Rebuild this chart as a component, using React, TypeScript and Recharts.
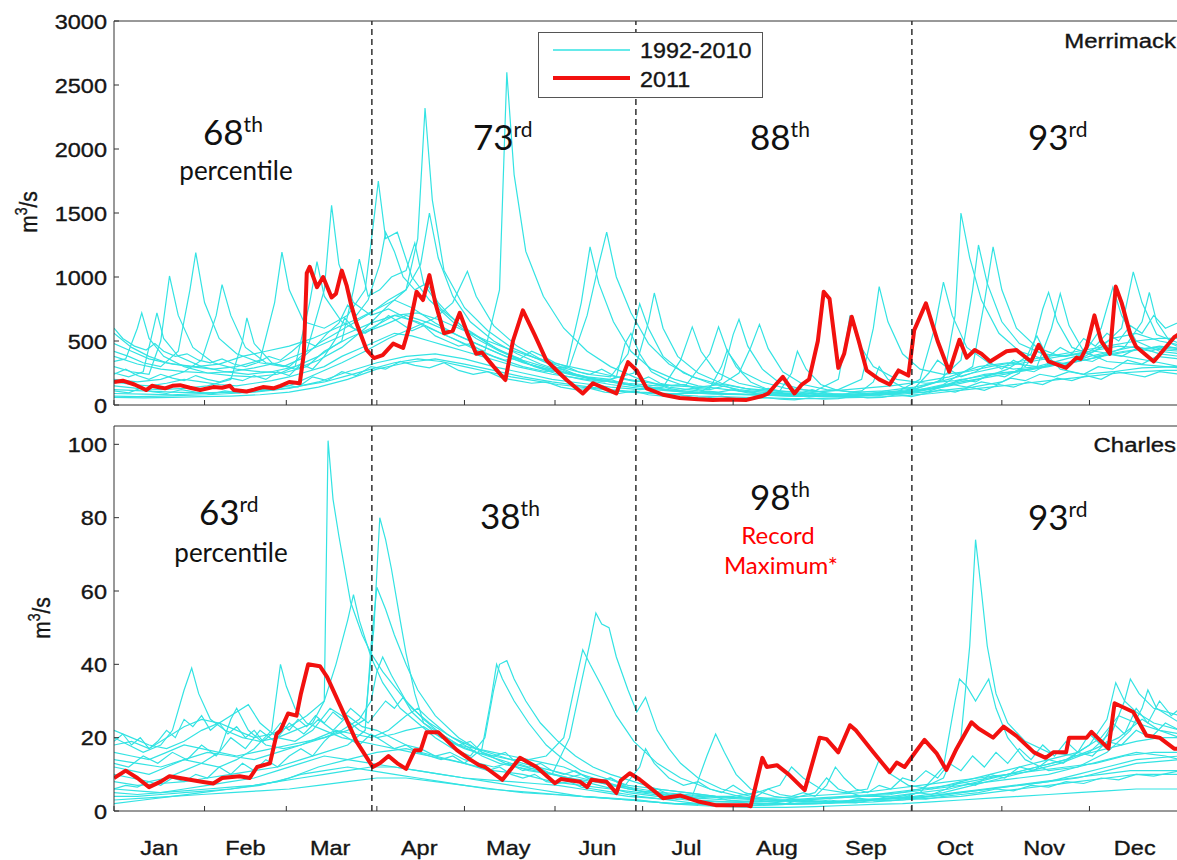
import React from 'react';
import { LineChart, Line, XAxis, YAxis, ReferenceLine } from 'recharts';

type Pt = [number, number]; // [day of year, flow m3/s]

const MONTHS = ['Jan', 'Feb', 'Mar', 'Apr', 'May', 'Jun', 'Jul', 'Aug', 'Sep', 'Oct', 'Nov', 'Dec'];
const MONTH_MID = [15.5, 45, 74, 104.5, 135, 165.5, 196, 227, 257.5, 288, 318.5, 349.5];
const MONTH_EDGES = [0, 31, 59, 90, 120, 151, 181, 212, 243, 273, 304, 334, 365];
const SEASON_BREAKS = [88.3, 178.7, 273.2];

const MERRIMACK_TICKS = [0, 500, 1000, 1500, 2000, 2500, 3000];
const CHARLES_TICKS = [0, 20, 40, 60, 80, 100];

// Merrimack, 1992-2010 (one array per year)
const merrimackPast: Pt[][] = [
  [[0,420],[5,380],[10,330],[16,300],[22,420],[26,900],[28,1190],[31,800],[36,520],[42,400],[50,330],[58,300],[64,360],[70,480],[76,560],[82,640],[88,720],[94,820],[100,900],[104,1300],[106.5,2320],[109,1600],[113,1050],[120,760],[128,580],[136,450],[145,360],[155,260],[165,200],[175,160],[185,130],[195,100],[205,85],[215,80],[225,75],[235,70],[245,80],[255,90],[265,100],[275,130],[284,200],[288,700],[290,1500],[293,1150],[297,820],[303,560],[310,420],[318,360],[326,320],[334,380],[342,420],[350,460],[358,400],[365,380]],
  [[0,300],[6,260],[12,240],[16,500],[19,1008],[22,700],[27,450],[34,330],[42,280],[50,260],[58,250],[66,300],[72,420],[80,520],[88,600],[96,700],[104,650],[112,560],[120,480],[127,420],[132,900],[134.5,2600],[137,1800],[141,1200],[147,850],[154,600],[162,420],[170,300],[180,200],[190,140],[200,110],[210,90],[220,80],[232,70],[244,65],[256,70],[268,90],[278,120],[288,180],[298,240],[308,260],[318,300],[328,330],[338,380],[348,420],[358,460],[365,440]],
  [[0,200],[8,180],[16,200],[24,260],[30,350],[35,700],[37,940],[40,700],[45,450],[52,330],[60,300],[66,420],[72,900],[74.5,1560],[77,1100],[82,800],[88,700],[94,750],[100,680],[108,600],[116,520],[124,430],[132,360],[140,300],[148,260],[156,300],[162,700],[166,1100],[168.7,1350],[172,1000],[177,720],[183,480],[190,320],[198,220],[206,170],[216,130],[226,110],[236,100],[246,110],[256,130],[266,150],[276,180],[286,220],[296,300],[306,330],[316,300],[326,360],[336,420],[346,380],[356,340],[365,300]],
  [[0,560],[6,450],[12,380],[18,330],[26,300],[34,280],[42,300],[50,350],[55,800],[57.5,1195],[60,900],[65,650],[72,600],[80,700],[86,900],[89,1450],[90.5,1750],[93,1300],[97,1350],[102,1000],[108,820],[116,650],[124,520],[132,420],[140,350],[150,280],[160,220],[170,180],[180,150],[190,120],[200,100],[212,85],[224,75],[236,70],[248,72],[260,85],[272,110],[282,180],[290,350],[294,900],[296,1250],[299,950],[304,650],[310,480],[318,400],[326,380],[334,420],[342,520],[350,560],[358,500],[365,470]],
  [[0,340],[4,360],[8,600],[9.5,720],[12,520],[17,380],[24,300],[32,250],[40,230],[48,220],[56,240],[62,300],[67,800],[69.5,1120],[72,850],[78,650],[85,560],[92,620],[100,700],[108,640],[116,560],[124,480],[132,400],[140,330],[148,280],[155,300],[160,800],[163,1235],[166,950],[171,650],[177,420],[184,280],[192,200],[200,150],[210,120],[220,95],[232,80],[244,70],[256,75],[268,90],[280,130],[290,180],[300,220],[310,260],[320,300],[330,350],[338,450],[345,600],[349,1040],[352,800],[357,550],[365,480]],
  [[0,250],[5,220],[10,260],[13,550],[14.7,720],[17,520],[22,380],[30,300],[38,260],[46,240],[54,260],[62,300],[70,380],[78,500],[82,900],[84,1140],[87,850],[91,900],[95,1000],[100,1050],[103,1265],[106,950],[112,750],[120,600],[128,480],[136,380],[144,300],[152,240],[160,200],[170,160],[180,130],[190,110],[200,95],[212,85],[224,80],[236,90],[248,120],[256,200],[260,600],[262,925],[265,650],[270,400],[276,280],[284,240],[292,260],[300,300],[310,340],[320,380],[330,420],[340,460],[350,500],[358,520],[365,520]],
  [[0,150],[8,130],[16,120],[24,130],[32,150],[40,200],[44,500],[45.5,680],[48,480],[54,330],[62,280],[70,350],[78,450],[86,600],[94,780],[100,900],[105,1100],[108,1500],[111,1150],[116,850],[122,650],[130,500],[138,400],[146,320],[154,260],[162,220],[170,200],[178,250],[183,650],[185,875],[188,600],[193,380],[200,250],[208,170],[218,120],[228,95],[238,80],[250,75],[262,80],[274,100],[286,150],[296,200],[306,280],[314,400],[318,750],[320,880],[323,650],[328,450],[336,380],[346,420],[356,450],[365,430]],
  [[0,120],[10,110],[20,100],[30,95],[40,100],[50,110],[60,150],[70,250],[78,330],[86,420],[94,520],[102,600],[110,680],[116,800],[121,1045],[124,850],[130,620],[138,460],[146,360],[154,290],[162,240],[170,220],[176,400],[180,790],[183,600],[188,380],[195,250],[204,170],[214,120],[224,95],[236,80],[248,75],[260,80],[272,100],[284,160],[294,300],[298,800],[301,1235],[304,900],[309,600],[316,450],[324,380],[332,400],[338,600],[342,920],[345,700],[350,500],[358,420],[365,400]],
  [[0,90],[10,85],[20,80],[30,90],[40,100],[50,110],[60,130],[70,180],[80,260],[90,330],[100,380],[110,400],[120,360],[130,300],[140,250],[150,200],[160,170],[170,140],[180,120],[188,140],[194,350],[198,610],[201,420],[206,260],[214,170],[224,120],[234,95],[244,85],[256,80],[268,100],[276,200],[281,600],[284,960],[287,700],[292,450],[300,320],[308,280],[316,300],[321,600],[324,870],[327,620],[332,420],[340,340],[350,320],[360,300],[365,290]],
  [[0,480],[6,420],[12,360],[20,320],[28,300],[36,320],[44,380],[52,420],[60,460],[68,520],[76,600],[84,680],[90,750],[96,820],[102,760],[110,640],[118,540],[126,460],[134,380],[142,320],[150,270],[158,230],[166,200],[176,170],[186,150],[196,160],[204,400],[207,610],[210,420],[215,260],[222,180],[230,130],[240,110],[248,200],[251,550],[252,700],[255,480],[260,300],[268,200],[278,170],[288,190],[298,230],[308,260],[318,300],[328,330],[338,380],[346,450],[352,650],[354.5,880],[357,650],[362,480],[365,450]],
  [[0,60],[10,55],[20,60],[30,65],[40,70],[50,80],[60,100],[70,140],[80,200],[90,280],[100,330],[110,360],[120,320],[130,270],[140,220],[150,180],[160,150],[170,120],[180,100],[190,90],[200,90],[208,200],[212,550],[214,670],[217,460],[222,280],[228,170],[236,120],[246,90],[258,80],[270,85],[282,110],[294,140],[304,180],[310,250],[314,450],[316,540],[319,400],[324,280],[332,240],[342,260],[352,290],[365,300]],
  [[0,380],[8,320],[16,280],[24,260],[32,250],[40,260],[48,290],[56,330],[64,400],[72,480],[80,560],[88,640],[96,700],[104,720],[112,660],[120,580],[128,500],[136,430],[144,370],[152,320],[160,280],[168,240],[176,200],[184,170],[192,150],[200,140],[208,160],[214,250],[218,450],[221,630],[224,440],[229,260],[236,160],[244,120],[254,100],[264,110],[274,140],[284,190],[294,250],[304,300],[314,340],[324,380],[334,420],[344,460],[354,440],[365,420]],
  [[0,110],[5,95],[9,130],[13,105],[18,90],[23,120],[28,100],[33,85],[38,110],[43,95],[48,130],[53,115],[58,160],[63,140],[68,220],[73,190],[78,260],[83,230],[88,300],[93,280],[98,340],[103,310],[108,290],[113,330],[118,270],[123,240],[128,260],[133,210],[138,190],[143,170],[148,180],[153,140],[158,120],[163,130],[168,100],[173,90],[178,110],[183,80],[188,70],[193,85],[198,60],[203,55],[208,70],[213,50],[218,45],[223,60],[228,45],[233,40],[238,55],[243,45],[248,50],[253,70],[258,55],[263,60],[268,80],[273,65],[278,90],[283,120],[288,100],[293,140],[298,115],[303,160],[308,140],[313,180],[318,160],[323,210],[328,190],[333,230],[338,200],[343,260],[348,240],[353,220],[358,260],[365,240]],
  [[0,600],[3,520],[7,460],[11,430],[14,480],[17,420],[21,380],[25,400],[29,350],[33,330],[37,360],[41,320],[45,300],[49,330],[53,380],[57,350],[61,420],[65,500],[69,460],[73,560],[77,640],[80,780],[83,700],[87,820],[91,1100],[93,1350],[96,1200],[99,1000],[103,900],[107,950],[111,800],[115,700],[119,620],[123,560],[127,500],[131,440],[135,400],[139,360],[143,420],[147,380],[151,330],[155,300],[159,260],[163,240],[167,280],[171,230],[175,200],[179,180],[183,220],[187,170],[191,150],[195,160],[199,130],[204,120],[209,150],[214,110],[219,100],[224,130],[229,95],[234,85],[239,120],[244,90],[249,80],[254,100],[259,85],[264,110],[269,95],[274,130],[279,250],[282,350],[286,280],[290,220],[295,260],[300,330],[304,280],[308,350],[312,300],[316,420],[320,380],[324,450],[328,400],[332,520],[336,460],[340,560],[344,500],[348,620],[352,560],[356,700],[360,600],[365,650]],
  [[0,240],[4,280],[8,230],[12,200],[16,240],[20,210],[24,190],[28,230],[32,200],[36,180],[40,210],[44,190],[48,230],[52,200],[56,260],[60,230],[64,320],[68,280],[72,380],[76,520],[79,680],[82,600],[86,560],[90,620],[94,700],[98,640],[102,580],[106,620],[110,540],[114,500],[118,460],[122,480],[126,420],[130,380],[134,350],[138,370],[142,320],[146,290],[150,260],[154,280],[158,240],[162,210],[166,190],[170,200],[174,170],[178,150],[182,140],[186,160],[190,130],[194,115],[198,130],[202,110],[207,100],[212,120],[217,95],[222,85],[227,100],[232,80],[237,70],[242,90],[247,75],[252,70],[257,90],[262,75],[267,85],[272,110],[277,95],[282,130],[287,160],[292,140],[297,180],[302,160],[307,210],[312,190],[317,240],[322,220],[327,260],[332,240],[337,300],[342,280],[347,350],[352,320],[357,380],[365,360]],
  [[0,180],[6,160],[12,150],[18,170],[24,200],[30,180],[36,160],[42,150],[48,170],[54,190],[60,220],[66,260],[72,300],[78,380],[84,440],[90,500],[96,560],[102,540],[108,500],[114,460],[120,420],[126,380],[132,340],[138,300],[144,270],[150,240],[156,220],[162,200],[168,180],[172,220],[175,480],[177,560],[180,400],[184,260],[189,200],[194,160],[199,140],[204,130],[208,300],[210,430],[213,300],[218,180],[223,130],[228,110],[232,250],[234,420],[237,280],[242,160],[247,120],[252,100],[256,110],[260,180],[262,300],[265,200],[270,140],[275,120],[280,130],[285,150],[290,200],[295,180],[300,240],[305,220],[310,280],[315,260],[320,320],[325,300],[330,360],[335,340],[340,400],[345,380],[350,440],[355,420],[360,460],[365,440]],
  [[0,70],[8,65],[16,70],[24,75],[32,80],[40,90],[48,100],[56,120],[64,150],[72,180],[80,230],[88,280],[96,330],[104,360],[112,340],[120,300],[128,260],[136,220],[144,190],[152,160],[160,140],[168,120],[176,100],[184,90],[192,80],[200,70],[208,65],[216,60],[224,55],[232,50],[240,50],[248,55],[256,60],[264,65],[272,75],[280,90],[288,110],[296,130],[304,150],[312,170],[320,190],[328,210],[336,230],[344,250],[352,260],[360,270],[365,270]],
];

const merrimack2011: Pt[] = [[0,180],[3,190],[7,160],[11,117],[13,150],[15,140],[17.5,130],[20,150],[22.6,155],[26,135],[29.5,117],[34,140],[37,135],[39.7,150],[41,117],[45.4,105],[48,120],[51,140],[54.6,130],[57,150],[60,180],[63.6,170],[65,400],[66,1030],[67,1080],[69.5,920],[71.6,1000],[74.5,840],[76,870],[78,1050],[79.7,930],[81,800],[83,640],[86.5,430],[89,367],[92,390],[95.6,480],[99,445],[101,600],[103.6,885],[105.8,820],[108,1015],[110,800],[113,560],[116,580],[118.4,720],[121,560],[124,400],[126,410],[130,300],[134,195],[136.6,500],[140,740],[144,550],[148,350],[152,260],[155,195],[160.5,90],[164,170],[168,130],[172,90],[176,335],[179,270],[182.4,130],[188,80],[193.7,55],[200,45],[205,40],[210,42],[216.6,40],[222,70],[224,90],[227,170],[229,220],[233,90],[235.5,160],[238,200],[241,500],[243,885],[245,830],[248,290],[250,400],[252.6,690],[255,500],[257.7,270],[262,200],[265.6,160],[268.6,270],[272,230],[274,585],[278,795],[282,500],[286,260],[289.5,510],[292,370],[294.7,430],[297,400],[300,340],[305.6,420],[309,430],[314,340],[316.6,470],[320,340],[326,290],[329.6,370],[331,360],[333,450],[335.7,700],[338,500],[341,400],[343,925],[345,800],[348,550],[350,455],[356,340],[359,420],[363,530],[365,560]];

// Charles, 1992-2010
const charlesPast: Pt[][] = [
  [[0,20],[5,18],[10,16],[16,18],[20,22],[24,33],[26.6,39],[29,32],[33,25],[38,22],[44,20],[50,19],[56,20],[62,22],[68,24],[72,30],[73.3,101],[75,85],[77,75],[81,57],[85,48],[88,43],[92,38],[96,34],[102,28],[108,24],[116,20],[124,17],[132,15],[140,13],[150,11],[160,9],[170,7],[180,5.5],[190,4.5],[200,4],[210,3.5],[220,3],[230,3],[240,3.5],[250,4],[260,4.5],[270,5],[280,6],[290,7],[300,8],[310,9],[320,10],[330,12],[340,14],[350,16],[360,15],[365,14]],
  [[0,14],[8,13],[16,12],[24,14],[32,16],[40,15],[48,14],[56,16],[64,18],[72,20],[80,22],[86,25],[89,50],[91,80],[93,74],[95,66],[98,52],[100,43],[103,32],[106,24],[112,20],[120,17],[128,15],[136,13],[146,11],[156,9],[166,7],[176,5],[186,4],[196,3],[206,2.5],[216,2.5],[226,2.5],[236,3],[246,3.5],[256,4],[266,4.5],[276,6],[284,9],[290,20],[293,45],[295,74],[297,60],[299,45],[302,32],[306,24],[312,19],[320,16],[330,15],[340,17],[350,19],[358,20],[365,20]],
  [[0,8],[8,7],[16,7.5],[24,8],[32,9],[40,10],[48,11],[56,12],[64,14],[72,16],[80,18],[86,22],[88,45],[90,61],[93,55],[96,48],[100,40],[104,33],[110,26],[118,20],[126,16],[134,13],[142,11],[150,10],[156,20],[160,35],[163,46],[165,54],[167,51],[169.5,50],[172,42],[176,33],[179,27],[182,31],[186,22],[190,17],[194,13],[200,9],[208,6],[218,4],[228,3],[238,2.5],[248,2.5],[258,3],[268,3.5],[278,4],[288,5],[298,6],[308,7],[318,8],[328,9],[338,10],[348,11],[358,11],[365,11]],
  [[0,22],[6,20],[12,18],[18,17],[24,19],[30,22],[36,24],[42,22],[48,20],[54,21],[60,23],[66,26],[72,30],[76,40],[80,52],[82,59],[84,52],[88,42],[92,35],[98,28],[104,24],[110,20],[116,17],[122,15],[127,20],[130,33],[132,40],[134.5,41],[137,36],[141,30],[146,24],[152,19],[158,15],[164,12],[170,10],[178,8],[186,6],[196,5],[206,4],[216,3.5],[226,3],[236,3],[246,3.5],[256,4],[266,5],[276,6],[286,7],[296,8.5],[306,10],[316,11],[326,12],[336,13],[346,15],[356,16],[365,16]],
  [[0,12],[6,11],[12,10],[18,12],[24,14],[30,13],[36,12],[42,14],[48,17],[54,22],[57,40],[59,34],[62,28],[66,24],[72,22],[78,20],[84,19],[90,18],[96,17],[102,16],[108,15],[114,14],[120,13],[126,17],[129,30],[131,40],[133,36],[137,30],[142,24],[148,18],[154,14],[160,11],[168,9],[176,7],[186,6],[196,5],[206,4],[216,3.5],[226,3.5],[236,4],[246,4.5],[256,5],[266,6],[276,7],[286,8],[296,9],[306,10],[316,12],[326,14],[334,18],[340,25],[343,35],[346,30],[350,27],[356,24],[365,22]],
  [[0,16],[6,15],[12,14],[18,16],[24,18],[30,17],[36,16],[42,15],[48,16],[54,17],[60,18],[66,19],[72,20],[78,22],[84,25],[88,30],[90,38],[92,42],[95,37],[100,30],[106,25],[112,21],[118,18],[124,16],[130,15],[136,14],[142,14],[148,15],[154,20],[158,35],[160.5,44],[163,40],[167,34],[172,26],[178,19],[186,13],[194,9],[204,6],[214,4],[224,3],[234,2.5],[244,2.5],[254,3],[264,3.5],[274,4],[284,5],[294,7],[304,9],[314,11],[324,13],[334,16],[342,22],[346,30],[348,36],[351,32],[356,28],[365,26]],
  [[0,6],[8,5.5],[16,5],[24,5.5],[32,6],[40,6.5],[48,7],[56,8],[64,9],[72,10],[80,11],[88,12],[96,12],[104,11],[112,10],[120,9],[128,8.5],[136,8],[144,7.5],[152,7],[160,6],[168,5],[176,4],[184,3.5],[192,3],[198,4],[203,15],[206,21],[209,16],[213,10],[218,6],[226,4],[236,3],[246,2.5],[256,3],[266,3.5],[276,5],[284,12],[288,30],[289.5,36],[292,34],[295,30],[299.5,36],[302,28],[306,20],[312,14],[320,11],[330,12],[340,16],[348,22],[352,28],[354,33],[357,28],[365,24]],
  [[0,3],[10,3.5],[20,4],[30,4.5],[40,5],[50,5.5],[60,6],[70,7],[80,8],[90,9],[100,9],[110,8],[120,7],[130,6],[140,5],[150,4.5],[160,4],[170,3.5],[180,3],[190,2],[200,1.5],[210,1.2],[220,1],[230,1],[240,1.2],[250,1.5],[260,1.8],[270,2],[280,2.5],[290,3],[300,3.5],[310,4],[320,4.5],[330,5],[340,5.5],[350,6],[365,6]],
  [[0,10],[6,9],[12,8],[18,9],[24,11],[30,13],[36,16],[40,25],[42,28],[46,22],[52,18],[58,17],[64,18],[70,20],[76,22],[82,21],[88,20],[94,22],[100,26],[104,28],[108,25],[114,21],[120,18],[126,15],[132,13],[138,12],[144,11],[150,10],[156,9],[164,8],[172,7],[180,6],[188,5],[196,4.5],[204,4],[212,4],[220,5],[228,7],[232,12],[236,9],[242,6],[250,5],[258,6],[262,14],[266,10],[272,7],[280,6],[290,8],[300,10],[310,12],[320,14],[330,16],[338,20],[344,26],[350,24],[358,22],[365,21]],
  [[0,18],[6,19],[12,17],[18,20],[24,23],[30,25],[36,24],[42,27],[46,29],[50,24],[56,20],[62,19],[68,22],[74,28],[78,26],[84,22],[90,20],[96,21],[100,22],[106,23],[112,20],[118,18],[124,17],[130,16],[136,15],[142,14],[148,13],[154,12],[160,10],[168,8],[176,6],[184,5],[192,4],[200,3.5],[210,3],[220,2.5],[230,3],[240,5],[244,9],[248,6],[256,4],[266,4],[276,5],[286,6],[296,8],[306,10],[316,12],[326,14],[336,17],[344,20],[352,25],[358,22],[365,20]],
  [[0,5],[8,4.5],[16,5],[24,6],[32,7],[40,8],[48,9],[56,11],[64,13],[72,15],[80,14],[88,13],[96,12],[104,11],[112,10],[120,9],[128,8],[136,7],[144,6],[152,5],[160,4],[168,3.5],[176,3],[184,2.5],[192,2],[200,1.8],[210,1.5],[220,1.5],[230,1.8],[240,2],[250,2.2],[260,2.5],[270,3],[280,3.5],[290,4],[300,5],[310,6],[320,7],[330,8],[340,9],[350,10],[365,10]],
  [[0,2],[10,3],[20,4],[30,5],[40,6],[50,7],[60,9],[70,12],[80,14],[90,16],[100,17],[110,15],[120,13],[130,11],[140,10],[150,8],[160,7],[170,6],[180,5],[190,4],[200,3],[210,2.5],[220,2],[230,2],[240,2],[250,2.5],[260,3],[270,3],[280,4],[290,5],[300,6],[310,7],[320,8],[330,9],[340,11],[350,13],[365,14]],
  [[0,19],[3,21],[6,18],[9,20],[12,17],[15,19],[18,22],[21,20],[24,25],[27,23],[30,26],[33,22],[36,24],[39,21],[42,23],[45,20],[48,22],[51,19],[54,21],[57,24],[60,22],[63,25],[66,23],[69,26],[72,24],[75,27],[78,25],[81,28],[84,26],[87,24],[90,27],[93,30],[96,28],[99,31],[102,27],[106,24],[110,22],[114,20],[118,18],[122,19],[126,16],[130,15],[134,16],[138,13],[142,12],[146,13],[150,11],[154,10],[158,11],[162,9],[166,8],[170,9],[174,7],[178,6],[182,5],[186,6],[190,4.5],[195,4],[200,3.5],[205,4],[210,3],[215,2.5],[220,3],[225,2.5],[230,2],[235,3],[240,2.5],[245,3],[250,2.5],[255,3.5],[260,3],[265,4],[270,3.5],[275,5],[280,4.5],[285,6],[290,8],[295,7],[300,10],[305,9],[310,12],[315,11],[320,14],[325,13],[330,16],[335,15],[340,19],[345,18],[350,22],[355,20],[360,24],[365,22]],
  [[0,6],[4,7],[8,6.5],[12,8],[16,7],[20,9],[24,8],[28,10],[32,9],[36,12],[40,10],[44,13],[48,11],[52,14],[56,12],[60,15],[64,17],[68,15],[72,19],[76,22],[80,20],[84,18],[88,21],[92,19],[96,17],[100,18],[104,16],[108,15],[112,14],[116,15],[120,13],[124,12],[128,11],[132,12],[136,10],[140,9],[144,10],[148,8],[152,7.5],[156,8],[160,6.5],[164,6],[168,5.5],[172,5],[176,4.5],[180,4],[185,3.5],[190,3],[195,2.5],[200,2],[206,2],[212,1.8],[218,1.5],[224,2],[230,1.8],[236,2.2],[242,2],[248,2.5],[254,2.2],[260,3],[266,2.8],[272,3.5],[278,3.2],[284,4],[290,4.5],[296,5],[302,6],[308,5.5],[314,7],[320,6.5],[326,8],[332,7.5],[338,9],[344,8.5],[350,10],[356,9.5],[365,11]],
  [[0,13],[5,12],[10,15],[15,13],[20,16],[25,14],[30,18],[35,15],[40,20],[45,17],[50,22],[55,19],[60,24],[65,21],[70,25],[75,22],[80,26],[85,23],[90,22],[95,20],[100,18],[105,17],[110,15],[115,16],[120,14],[125,13],[130,12],[135,13],[140,11],[145,12],[150,10],[155,9],[160,10],[165,8],[170,9],[175,7],[180,12],[182,17],[185,13],[190,9],[195,7],[200,8],[204,6],[208,5],[212,7],[216,5],[220,4],[224,6],[228,4.5],[232,4],[236,5],[240,4],[244,7],[247,12],[250,9],[254,6],[258,5],[262,7],[266,6],[270,9],[274,8],[278,11],[282,9],[286,13],[290,11],[294,15],[298,12],[302,16],[306,13],[310,17],[314,14],[318,18],[322,15],[326,19],[330,16],[334,21],[338,18],[342,24],[346,21],[350,28],[354,24],[358,30],[362,26],[365,28]],
  [[0,4],[8,4],[16,4.5],[24,5],[32,5.5],[40,6],[48,7],[56,8],[64,10],[72,11],[80,12],[88,11],[96,10],[104,9],[112,8],[120,7],[128,6],[136,5.5],[144,5],[152,4.5],[160,4],[168,3.5],[176,3],[184,2.5],[192,2],[200,2],[210,1.8],[220,1.6],[230,1.8],[240,2],[250,2.5],[260,3],[270,3.5],[280,4],[290,5],[300,6],[310,7],[320,8],[330,10],[340,12],[350,14],[365,15]],
];

const charles2011: Pt[] = [[0,9],[4,11],[8,9],[12,6.5],[16,8],[19,9.5],[26,8.5],[30,8],[34,7.5],[37,9],[43,9.5],[46.5,9],[49,12],[53.4,13],[55.7,21],[57,22],[59.6,26.6],[62.5,26],[64,32],[66.5,40],[70.5,39.5],[73,36.5],[77.3,29],[83,19],[88.6,12],[91,13],[94,15],[97,13],[100,11.5],[103,16.6],[105,16.6],[107,21.5],[111,21.5],[117.4,16.6],[122,14],[125,12.5],[127,12],[133,8.5],[139,14.5],[144.7,12],[151,7.6],[153,8.7],[159.5,8],[162,6.5],[163.5,8.5],[168.6,8],[172,4.9],[173.5,8.3],[176.6,10.3],[180,8.6],[188,3.5],[194,4.2],[200.5,2.5],[206,1.6],[216.6,1.6],[218,1.3],[222,14.5],[223.5,12],[227,12.5],[231,10],[236.5,5.7],[241.6,20],[244,19.6],[248,16],[252,23.4],[254,22],[260,16],[265.6,10.6],[268,13.2],[270.7,12],[273.8,15.4],[277.5,19.4],[281.6,15.8],[285,11.2],[288.5,17],[293.6,24.2],[296,22.5],[301,20],[304.6,23],[309,20.5],[315,16],[319,14.5],[321.6,16],[326,16],[327,20],[333,20],[334.7,21.6],[340.5,17],[342.6,29.4],[349,27],[353.5,20.6],[358,20],[363,17],[365,17]];

const CYAN = '#33e3e3';
const RED = '#f2110f';
const AXIS = '#333333';
const INK = '#151515';
const FONT_AXIS = '"Liberation Sans", Arial, Helvetica, sans-serif';
const FONT_NOTE = 'Lato, "Open Sans", sans-serif';

const toRows = (pts: Pt[]) => pts.map(([d, v]) => ({ d, v }));

const ScaledText = ({ x, y, anchor = 'start', size = 21, sx = 1.12, fill = INK, children }: any) => (
  <text
    transform={`translate(${x},${y}) scale(${sx},1)`}
    textAnchor={anchor}
    fontFamily={FONT_AXIS}
    fontSize={size}
    fill={fill}
    stroke={fill}
    strokeWidth={0.35}
  >
    {children}
  </text>
);

const YTick = ({ x, y, payload }: any) => (
  <g transform={`translate(${x},${y}) scale(1.12,1)`}>
    <text textAnchor="end" dy="0.36em" fontFamily={FONT_AXIS} fontSize={21} fill={INK} stroke={INK} strokeWidth={0.35}>
      {payload.value}
    </text>
  </g>
);

// bottom axis: month edges get an inward tick mark, mid-months get the label
const makeXTick = (labels: boolean) => ({ x, y, payload }: any) => {
  const i = MONTH_MID.indexOf(payload.value);
  if (i >= 0) {
    return labels ? (
      <g transform={`translate(${x},${y + 44}) scale(1.12,1)`}>
        <text textAnchor="middle" fontFamily={FONT_AXIS} fontSize={21} fill={INK} stroke={INK} strokeWidth={0.35}>
          {MONTHS[i]}
        </text>
      </g>
    ) : (
      <g />
    );
  }
  return <line x1={x} x2={x} y1={y} y2={y - 5} stroke={AXIS} strokeWidth={1} />;
};

const LabeledXTick = makeXTick(true);
const PlainXTick = makeXTick(false);

const ALL_X_TICKS = [...MONTH_EDGES, ...MONTH_MID].sort((a, b) => a - b);

interface PanelProps {
  top: number;
  height: number;
  marginTop: number;
  bottomAxisHeight: number;
  yMax: number;
  yTicks: number[];
  past: Pt[][];
  current: Pt[];
  months: boolean;
}

const Panel: React.FC<PanelProps> = ({ top, height, marginTop, bottomAxisHeight, yMax, yTicks, past, current, months }) => (
  <div style={{ position: 'absolute', left: 0, top }}>
    <LineChart width={1200} height={height} margin={{ top: marginTop, right: 0, bottom: 0, left: 54 }}>
      <XAxis
        dataKey="d"
        type="number"
        domain={[0, 365]}
        allowDataOverflow
        ticks={months ? ALL_X_TICKS : MONTH_EDGES}
        interval={0}
        height={bottomAxisHeight}
        tickSize={0}
        tickMargin={0}
        tickLine={false}
        axisLine={{ stroke: AXIS }}
        tick={months ? LabeledXTick : PlainXTick}
      />
      <XAxis
        xAxisId="top"
        orientation="top"
        dataKey="d"
        type="number"
        domain={[0, 365]}
        allowDataOverflow
        ticks={MONTH_EDGES}
        interval={0}
        height={1}
        tickSize={-5}
        tick={false}
        tickLine={{ stroke: AXIS }}
        axisLine={{ stroke: AXIS }}
      />
      <YAxis
        type="number"
        domain={[0, yMax]}
        allowDataOverflow
        ticks={yTicks}
        interval={0}
        width={60}
        tickSize={-5}
        tickMargin={12}
        tickLine={{ stroke: AXIS }}
        axisLine={{ stroke: AXIS }}
        tick={YTick}
      />
      <YAxis
        yAxisId="r"
        orientation="right"
        type="number"
        domain={[0, yMax]}
        allowDataOverflow
        ticks={yTicks}
        interval={0}
        width={20}
        tickSize={-5}
        tick={false}
        tickLine={{ stroke: AXIS }}
        axisLine={{ stroke: AXIS }}
      />
      {past.map((pts, i) => (
        <Line
          key={`past-${i}`}
          data={toRows(pts)}
          dataKey="v"
          type="linear"
          stroke={CYAN}
          strokeWidth={1.2}
          dot={false}
          activeDot={false}
          isAnimationActive={false}
        />
      ))}
      <Line
        data={toRows(current)}
        dataKey="v"
        type="linear"
        stroke={RED}
        strokeWidth={4}
        strokeLinejoin="round"
        dot={false}
        activeDot={false}
        isAnimationActive={false}
      />
      {SEASON_BREAKS.map((d) => (
        <ReferenceLine key={d} x={d} stroke="#111" strokeWidth={1.3} strokeDasharray="6 4" ifOverflow="hidden" />
      ))}
    </LineChart>
  </div>
);

const Note = ({ x, y, num, sup }: { x: number; y: number; num: string; sup: string }) => (
  <text x={x} y={y} fontFamily={FONT_NOTE} fontSize={35} fill="#111">
    {num}
    <tspan fontSize={21} dy={-13}>
      {sup}
    </tspan>
  </text>
);

const Sub = ({ x, y, children, fill = '#111', size = 26 }: any) => (
  <text x={x} y={y} textAnchor="middle" fontFamily={FONT_NOTE} fontSize={size} fill={fill}>
    {children}
  </text>
);

const YTitle = ({ x, y }: { x: number; y: number }) => (
  <text
    transform={`translate(${x},${y}) rotate(-90) scale(1,1.12)`}
    textAnchor="middle"
    fontFamily={FONT_AXIS}
    fontSize={21}
    fill={INK}
    stroke={INK}
    strokeWidth={0.35}
  >
    m<tspan fontSize={14} dy={-9}>3</tspan>
    <tspan dy={9}>/s</tspan>
  </text>
);

const App: React.FC = () => (
  <div
    style={{
      position: 'absolute',
      left: 0,
      top: 0,
      width: 1177,
      height: 860,
      overflow: 'hidden',
      background: '#fff',
    }}
  >
    <Panel
      top={0}
      height={420}
      marginTop={20}
      bottomAxisHeight={15}
      yMax={3000}
      yTicks={MERRIMACK_TICKS}
      past={merrimackPast}
      current={merrimack2011}
      months={false}
    />
    <Panel
      top={420}
      height={440}
      marginTop={5}
      bottomAxisHeight={49}
      yMax={105}
      yTicks={CHARLES_TICKS}
      past={charlesPast}
      current={charles2011}
      months
    />

    <svg width={1177} height={860} style={{ position: 'absolute', left: 0, top: 0, pointerEvents: 'none' }}>
      <YTitle x={37} y={212} />
      <YTitle x={50} y={618} />

      {/* legend */}
      <rect x={538.5} y={32.5} width={224} height={65} fill="#fff" stroke="#555" strokeWidth={1} />
      <line x1={553} x2={630} y1={50} y2={50} stroke={CYAN} strokeWidth={1.3} />
      <line x1={553} x2={630} y1={78} y2={78} stroke={RED} strokeWidth={4} />
      <ScaledText x={640} y={58} size={22} sx={1.06}>1992-2010</ScaledText>
      <ScaledText x={640} y={87} size={22} sx={1.06}>2011</ScaledText>

      <ScaledText x={1176} y={48} anchor="end" size={21} sx={1.14}>Merrimack</ScaledText>
      <ScaledText x={1176} y={452} anchor="end" size={21} sx={1.14}>Charles</ScaledText>

      {/* percentile notes, Merrimack */}
      <Note x={203} y={145} num="68" sup="th" />
      <Sub x={236} y={180}>percentile</Sub>
      <Note x={473} y={150} num="73" sup="rd" />
      <Note x={750} y={150} num="88" sup="th" />
      <Note x={1028} y={150} num="93" sup="rd" />

      {/* percentile notes, Charles */}
      <Note x={199} y={525} num="63" sup="rd" />
      <Sub x={231} y={562}>percentile</Sub>
      <Note x={480} y={529} num="38" sup="th" />
      <Note x={750} y={510} num="98" sup="th" />
      <Sub x={778} y={544} fill="#ff0000" size={24}>Record</Sub>
      <Sub x={781} y={574} fill="#ff0000" size={24}>Maximum*</Sub>
      <Note x={1028} y={530} num="93" sup="rd" />
    </svg>
  </div>
);

export default App;
